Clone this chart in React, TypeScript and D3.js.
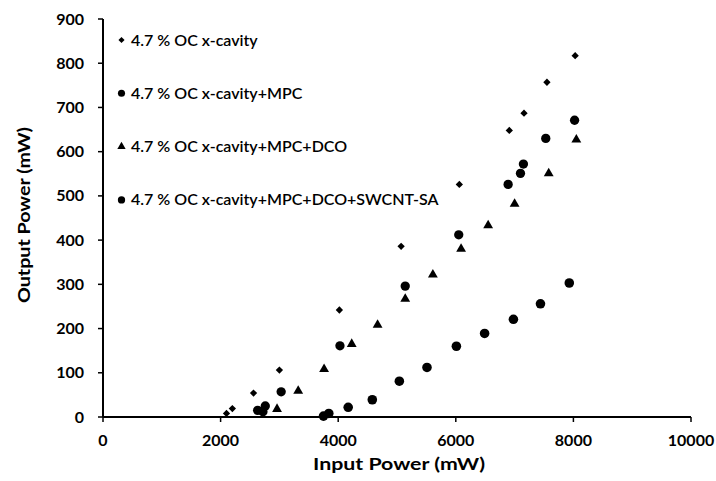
import React from 'react';
import * as d3 from 'd3';

// series: [input mW, output mW]
const ocCavity = [
  [2100, 8], [2200, 19], [2560, 54], [3000, 106], [4020, 242], [5070, 386],
  [6060, 526], [6910, 648], [7160, 687], [7550, 757], [8030, 817],
];
const ocMpc = [
  [2630, 15], [2720, 12], [2760, 25], [3030, 57], [4030, 161], [5140, 296],
  [6050, 412], [6890, 526], [7100, 551], [7150, 572], [7530, 630], [8020, 671],
];
const ocMpcDco = [
  [2960, 18], [3320, 59], [3760, 108], [4230, 165], [4670, 208], [5140, 267],
  [5610, 322], [6090, 380], [6550, 433], [7000, 482], [7580, 551], [8050, 627],
];
const ocMpcDcoSa = [
  [3750, 2], [3840, 8], [4170, 22], [4580, 39], [5040, 81], [5510, 112],
  [6010, 160], [6490, 189], [6980, 221], [7440, 256], [7930, 303],
];
const legendLabels = [
  '4.7 % OC x-cavity',
  '4.7 % OC x-cavity+MPC',
  '4.7 % OC x-cavity+MPC+DCO',
  '4.7 % OC x-cavity+MPC+DCO+SWCNT-SA',
];
const xTicks = [0, 2000, 4000, 6000, 8000, 10000];
const yTicks = [0, 100, 200, 300, 400, 500, 600, 700, 800, 900];

const font = 'Lato, "Open Sans", sans-serif';

const x = d3.scaleLinear().domain([0, 10000]).range([103, 691]);
const y = d3.scaleLinear().domain([0, 900]).range([417, 19]);

const shapes = [
  d3.symbol().type(d3.symbolDiamond2).size(34),
  d3.symbol().type(d3.symbolCircle).size(68),
  d3.symbol().type(d3.symbolTriangle).size(42),
  d3.symbol().type(d3.symbolCircle).size(72),
];
const legendShapes = [
  d3.symbol().type(d3.symbolDiamond2).size(24),
  d3.symbol().type(d3.symbolCircle).size(40),
  d3.symbol().type(d3.symbolTriangle).size(30),
  d3.symbol().type(d3.symbolCircle).size(42),
];
const allSeries = [ocCavity, ocMpc, ocMpcDco, ocMpcDcoSa];

export default function App() {
  const [x0, x1] = x.range();
  const [y0, y1] = y.range();
  return (
    <svg width={716} height={481} style={{ position: 'absolute', left: 0, top: 0, background: '#fff' }}>
      <rect width={716} height={481} fill="#fff" />
      {/* axes */}
      <line x1={x0} x2={x1} y1={y0} y2={y0} stroke="#000" strokeWidth={2} />
      <line x1={x0} x2={x0} y1={y0} y2={y1} stroke="#000" strokeWidth={2} />
      {xTicks.map(t => (
        <g key={'x' + t}>
          <line x1={x(t)} x2={x(t)} y1={y0} y2={y0 + 5} stroke="#000" strokeWidth={1.5} />
          <text x={x(t)} y={446} textAnchor="middle" fontFamily={font} fontWeight={700} fontSize={16}>{t}</text>
        </g>
      ))}
      {yTicks.map(t => (
        <g key={'y' + t}>
          <line x1={x0 - 5} x2={x0} y1={y(t)} y2={y(t)} stroke="#000" strokeWidth={1.5} />
          <text x={84} y={y(t) + 5.5} textAnchor="end" fontFamily={font} fontWeight={700} fontSize={16}>{t}</text>
        </g>
      ))}
      <text x={399} y={470} textAnchor="middle" fontFamily={font} fontWeight={700} fontSize={17}
        textLength={172} lengthAdjust="spacingAndGlyphs">Input Power (mW)</text>
      <text transform="translate(30,215) rotate(-90)" textAnchor="middle" fontFamily={font} fontWeight={700} fontSize={17}
        textLength={176} lengthAdjust="spacingAndGlyphs">Output Power (mW)</text>

      {/* points */}
      {allSeries.map((s, i) => (
        <g key={'s' + i} fill="#000">
          {s.map((d, j) => (
            <path key={j} d={shapes[i]() || ''} transform={`translate(${x(d[0])},${y(d[1])})`} />
          ))}
        </g>
      ))}

      {/* legend */}
      {legendLabels.map((lab, i) => {
        const ly = 40 + i * 53.3;
        return (
          <g key={lab}>
            <path d={legendShapes[i]() || ''} transform={`translate(121.5,${ly})`} fill="#000" />
            <text x={131} y={ly + 5.5} fontFamily={font} fontWeight={600} fontSize={16}>{lab}</text>
          </g>
        );
      })}
    </svg>
  );
}
